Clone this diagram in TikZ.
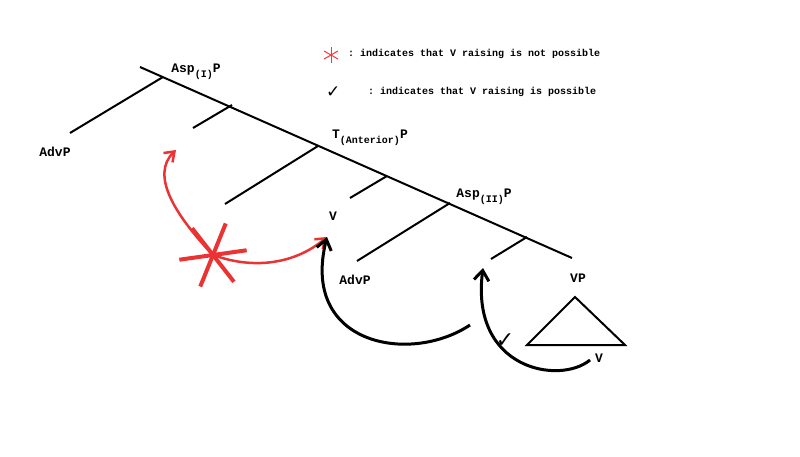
\documentclass[tikz,border=0pt]{standalone}
\usepackage{fontspec}
\setmonofont{Liberation Mono}
\usetikzlibrary{arrows.meta}
\begin{document}
\begin{tikzpicture}[x=1pt,y=-1pt,
  br/.style={line width=2pt},
  lab/.style={font=\ttfamily\bfseries\fontsize{13}{14}\selectfont,inner sep=0pt},
  leg/.style={font=\ttfamily\bfseries\fontsize{10}{12}\selectfont,inner sep=0pt,anchor=west},
  redarr/.style={red!90!black!80,line width=2.5pt,-{Straight Barb[length=9pt,width=13pt]}},
  blkarr/.style={black,line width=3pt,-{Straight Barb[length=10pt,width=15pt]}}]
\useasboundingbox (0,0) rectangle (800,457);
% spine
\coordinate (s0) at (140,67);
\coordinate (a1) at (163,77);
\coordinate (j1) at (232,105);
\coordinate (t) at (318,146);
\coordinate (j2) at (387,176);
\coordinate (a2) at (450,203);
\coordinate (j3) at (527,237);
\coordinate (s1) at (572,258);
\draw[br] (s0) -- (s1);
\draw[br] (a1) -- (70,133);
\draw[br] (j1) -- (193,128);
\draw[br] (t) -- (225,204);
\draw[br] (j2) -- (350,198);
\draw[br] (a2) -- (357,261);
\draw[br] (j3) -- (491,259);
% labels
\node[lab] (advp1) at (55,152) {AdvP};
\node[lab] (asp1) at (196,72) {Asp\raisebox{-5pt}{\fontsize{10}{10}\selectfont(I)}P};
\node[lab] (tant) at (370,138) {T\raisebox{-5pt}{\fontsize{10}{10}\selectfont(Anterior)}P};
\node[lab] (asp2) at (484,197) {Asp\raisebox{-5pt}{\fontsize{10}{10}\selectfont(II)}P};
\node[lab] (v1) at (333,216) {V};
\node[lab] (advp2) at (355,280) {AdvP};
\node[lab] (vp) at (578,278) {VP};
\node[lab] (v2) at (599,358) {V};
\draw[line width=2pt] (575,297) -- (625,345) -- (527,345) -- cycle;
% legend
\foreach \a in {90,150,210} \draw[red!80,line width=1pt] (331,55) ++(\a:8) -- ++(\a+180:16);
\node[leg] (l1) at (348,54) {: indicates that V raising is not possible};
\node[leg,font=\fontsize{17}{17}\selectfont] (ck) at (326,92) {\fontspec{DejaVu Sans}✓};
\node[leg] (l2) at (368,92) {: indicates that V raising is possible};
% red star
\coordinate (st) at (213,255);
\foreach \a in {-8,52,112} \draw[red!90!black!80,line width=4pt] (st) ++(\a:34) -- ++(\a+180:68);
\draw[redarr] (st) .. controls (175,215) and (150,175) .. (176,150);
\draw[redarr] (st) .. controls (260,272) and (300,260) .. (327,237);
% black arrows
\draw[blkarr] (470,325) .. controls (410,365) and (300,345) .. (327,237);
\draw[blkarr] (590,360) .. controls (560,385) and (470,370) .. (483,268);
\node[font=\fontsize{22}{22}\selectfont\fontspec{DejaVu Sans},inner sep=0pt] (ck2) at (505,341) {✓};
\end{tikzpicture}
\end{document}
